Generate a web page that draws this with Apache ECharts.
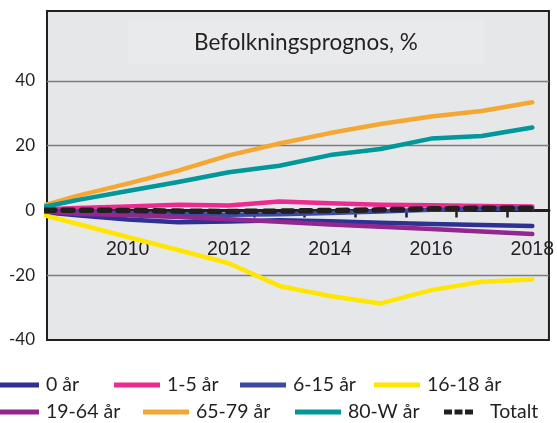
<!DOCTYPE html>
<html>
<head>
<meta charset="utf-8">
<script src="https://cdn.jsdelivr.net/npm/echarts@6/dist/echarts.min.js"></script>
<style>
html,body{margin:0;padding:0;background:#fff;}
#chart{width:557px;height:423px;}
</style>
</head>
<body>
<div id="chart"></div>
<script>
const years = [2008, 2009, 2010, 2011, 2012, 2013, 2014, 2015, 2016, 2017, 2018];
const seriesNames = ['0 år', '1-5 år', '6-15 år', '16-18 år', '19-64 år', '65-79 år', '80-W år', 'Totalt'];
const age0     = [0, -1.5, -2.8, -3.6, -3.4, -3.0, -3.3, -3.8, -4.2, -4.5, -4.8];
const age1_5   = [0, 0.8, 1.2, 1.8, 1.5, 2.8, 2.2, 1.8, 1.6, 1.4, 1.2];
const age6_15  = [0, -0.3, -0.8, -1.2, -1.3, -1.2, -0.8, -0.3, 0.2, 0.5, 0.7];
const age16_18 = [0, -4.1, -8.2, -12.2, -16.3, -23.3, -26.4, -28.7, -24.6, -22.0, -21.3];
const age19_64 = [0, -1.0, -1.5, -2.0, -2.7, -3.5, -4.3, -5.0, -5.7, -6.5, -7.3];
const age65_79 = [0, 4.5, 8.3, 12.3, 17.0, 20.7, 23.9, 26.7, 29.0, 30.7, 33.4];
const age80w   = [0, 3.2, 6.0, 8.8, 11.8, 13.8, 17.1, 19.0, 22.2, 23.0, 25.6];
const totalt   = [0, 0.1, 0, -0.2, -0.3, -0.2, 0, 0.2, 0.5, 0.7, 0.7];
const xLabelYears = [2010, 2012, 2014, 2016, 2018];
const xTickPositions = [2008.5, 2009.5, 2010.5, 2011.5, 2012.5, 2013.5, 2014.5, 2015.5, 2016.5, 2017.5];
const yLabels = [-40, -20, 0, 20, 40];
const gridValues = [-20, 20, 40];
const title = 'Befolkningsprognos, %';

const allValues = [age0, age1_5, age6_15, age16_18, age19_64, age65_79, age80w, totalt];
const colors = ['#2e3192', '#ec2a8f', '#3b4ba2', '#ffe600', '#92278f', '#f5a733', '#00989a', '#231f20'];
const pairs = arr => years.map((y, i) => [y, arr[i]]);

const series = allValues.map((arr, i) => {
  const isTotal = i === 7;
  return {
    name: seriesNames[i],
    type: 'line',
    data: pairs(arr),
    symbol: 'none',
    z: 3 + i,
    clip: true,
    lineStyle: isTotal
      ? { color: colors[i], width: 5.5, type: [10, 8.3], cap: 'round', join: 'round' }
      : { color: colors[i], width: 4.5, cap: 'round', join: 'round' },
    itemStyle: { color: colors[i] }
  };
});
series.push({
  type: 'line',
  data: [],
  z: 1,
  silent: true,
  markLine: {
    silent: true,
    symbol: 'none',
    label: { show: false },
    lineStyle: { color: '#7d7d7d', width: 1.3, type: 'solid' },
    data: gridValues.map(v => ({ yAxis: v }))
  }
});

const legendPos = [
  [-7, 375], [114, 375], [240, 375], [374, 375],
  [-7, 402], [143, 402], [295, 402], [444, 402]
];
const legends = seriesNames.map((n, i) => {
  const isTotal = i === 7;
  return {
    data: [n],
    left: legendPos[i][0],
    top: legendPos[i][1],
    padding: 0,
    itemWidth: isTotal ? 29 : 46,
    itemHeight: 5,
    icon: isTotal ? 'path://M0,0h8v5h-8z M10.5,0h8v5h-8z M21,0h8v5h-8z' : 'rect',
    textStyle: { fontFamily: 'Lato', fontSize: 19.5, color: '#231f20', padding: isTotal ? [0, 0, 0, 12] : [0, 0, 0, 2] },
    selectedMode: false
  };
});

const chart = echarts.init(document.getElementById('chart'), null, { renderer: 'canvas' });
chart.setOption({
  animation: false,
  color: colors,
  title: {
    text: title,
    left: 128,
    top: 21,
    padding: [10, 66, 10, 66],
    backgroundColor: '#e9eaeb',
    textStyle: { fontFamily: 'Lato', fontSize: 22.5, fontWeight: 'normal', color: '#231f20' }
  },
  legend: legends,
  grid: {
    left: 47, right: -3, top: 11, bottom: 83,
    show: true,
    backgroundColor: '#e6e7e8',
    borderColor: '#231f20',
    borderWidth: 2
  },
  xAxis: {
    type: 'value',
    min: 2008.406,
    max: 2018.329,
    axisLine: { show: true, onZero: true, lineStyle: { color: '#231f20', width: 3 } },
    axisTick: { show: true, length: 7, customValues: xTickPositions, lineStyle: { color: '#231f20', width: 2.5 } },
    axisLabel: {
      customValues: xLabelYears,
      margin: -100,
      fontFamily: 'Liberation Sans',
      fontSize: 19.5,
      color: '#231f20',
      formatter: v => String(v)
    },
    splitLine: { show: false }
  },
  yAxis: {
    type: 'value',
    min: -40,
    max: 61.6,
    interval: 20,
    axisLine: { show: false },
    axisTick: { show: false },
    splitLine: { show: false },
    axisLabel: {
      margin: 12,
      fontFamily: 'Lato',
      fontSize: 17,
      color: '#231f20',
      formatter: v => (yLabels.indexOf(v) >= 0 ? String(v) : '')
    }
  },
  series: series
});
</script>
</body>
</html>
